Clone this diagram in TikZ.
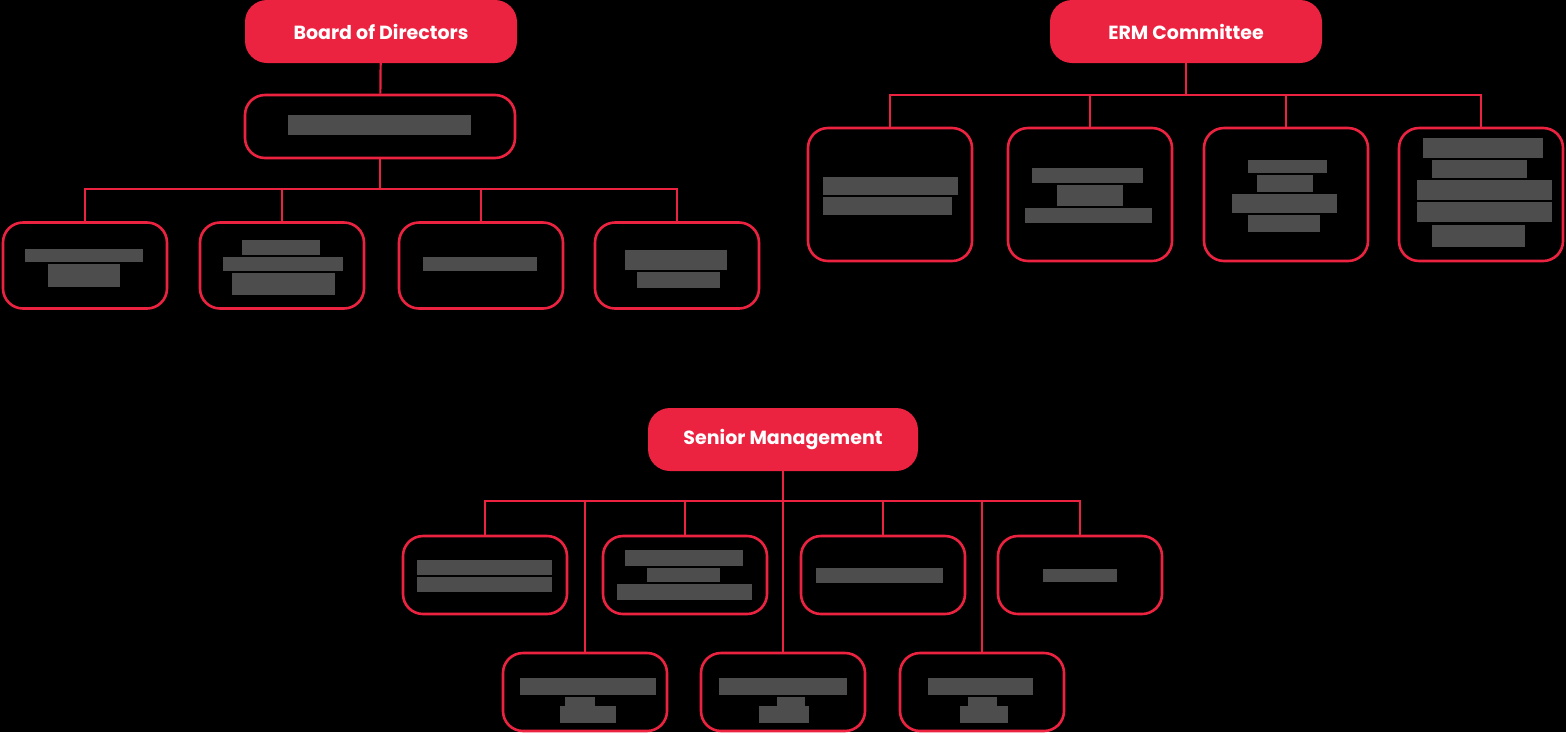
\documentclass[tikz,border=0pt]{standalone}
\usepackage{fontspec}
\setmainfont{Poppins}
\usetikzlibrary{positioning}
\definecolor{ermred}{HTML}{EC2340}
\definecolor{ermgray}{HTML}{4D4D4D}

\begin{document}
\begin{tikzpicture}[x=1pt, y=-1pt,
    head/.style={fill=ermred, rounded corners=22pt, minimum width=272pt, minimum height=63pt, text=white, font=\fontsize{19}{22}\selectfont\bfseries},
    unit/.style={draw=ermred, line width=2.6pt, rounded corners=20pt, minimum width=164pt, minimum height=86pt},
    link/.style={draw=ermred, line width=2.2pt},
    txt/.style={fill=ermgray}]
    \useasboundingbox (0,0) rectangle (1566,732);
    \fill[black] (0,0) rectangle (1566,732);

    % Board side
    \node[head] (bod) at (381,31.5) {Board of Directors};
    \node[unit, minimum width=270pt, minimum height=63pt] (bsub) at (380,126.5) {};
    \node[unit] (b1) at (85,265.5) {};
    \node[unit] (b2) at (282,265.5) {};
    \node[unit] (b3) at (481,265.5) {};
    \node[unit] (b4) at (677,265.5) {};

    % ERM side
    \node[head] (erm) at (1186,31.5) {ERM Committee};
    \node[unit, minimum height=133pt] (e1) at (890,194.5) {};
    \node[unit, minimum height=133pt] (e2) at (1090,194.5) {};
    \node[unit, minimum height=133pt] (e3) at (1286,194.5) {};
    \node[unit, minimum height=133pt] (e4) at (1481,194.5) {};

    % Management side
    \node[head, minimum width=270pt] (sm) at (783,439.5) {Senior Management};
    \node[unit, minimum height=78pt] (s1) at (485,575) {};
    \node[unit, minimum height=78pt] (s2) at (685,575) {};
    \node[unit, minimum height=78pt] (s3) at (883,575) {};
    \node[unit, minimum height=78pt] (s4) at (1080,575) {};
    \node[unit, minimum height=78pt] (t1) at (585,692) {};
    \node[unit, minimum height=78pt] (t2) at (783,692) {};
    \node[unit, minimum height=78pt] (t3) at (982,692) {};

    % Links
    \coordinate (bbus) at (380,189);
    \coordinate (ebus) at (1186,95);
    \coordinate (sbus) at (783,501);
    \draw[link] (bod) -- (bsub);
    \draw[link] (bsub.south) -- (bbus);
    \foreach \n in {b1,b2,b3,b4} \draw[link] (bbus) -| (\n.north);
    \draw[link] (erm.south) -- (ebus);
    \foreach \n in {e1,e2,e3,e4} \draw[link] (ebus) -| (\n.north);
    \draw[link] (sm.south) -- (t2.north);
    \foreach \n in {s1,s2,s3,s4,t1,t3} \draw[link] (sbus) -| (\n.north);

    % Blurred labels
    \fill[txt] (288,115) rectangle (471,135);
    \fill[txt] (25,249) rectangle (143,262);
    \fill[txt] (48,264) rectangle (120,287);
    \fill[txt] (242,240) rectangle (320,255);
    \fill[txt] (223,257) rectangle (343,271);
    \fill[txt] (232,273) rectangle (335,295);
    \fill[txt] (423,257) rectangle (537,271);
    \fill[txt] (625,250) rectangle (727,270);
    \fill[txt] (637,272) rectangle (720,288);

    \fill[txt] (823,177) rectangle (958,195);
    \fill[txt] (823,197) rectangle (952,215);
    \fill[txt] (1032,168) rectangle (1143,183);
    \fill[txt] (1057,185) rectangle (1123,206);
    \fill[txt] (1025,208) rectangle (1152,223);
    \fill[txt] (1248,160) rectangle (1327,173);
    \fill[txt] (1257,175) rectangle (1313,192);
    \fill[txt] (1232,194) rectangle (1337,213);
    \fill[txt] (1248,215) rectangle (1320,232);
    \fill[txt] (1423,138) rectangle (1543,158);
    \fill[txt] (1432,160) rectangle (1527,178);
    \fill[txt] (1417,180) rectangle (1552,200);
    \fill[txt] (1417,202) rectangle (1552,222);
    \fill[txt] (1432,225) rectangle (1525,247);

    \fill[txt] (417,560) rectangle (552,575);
    \fill[txt] (417,577) rectangle (552,592);
    \fill[txt] (625,550) rectangle (743,566);
    \fill[txt] (647,568) rectangle (720,582);
    \fill[txt] (617,584) rectangle (752,600);
    \fill[txt] (816,568) rectangle (943,583);
    \fill[txt] (1043,569) rectangle (1117,582);
    \fill[txt] (520,678) rectangle (656,695);
    \fill[txt] (565,697) rectangle (595,706);
    \fill[txt] (560,706) rectangle (616,723);
    \fill[txt] (719,678) rectangle (847,695);
    \fill[txt] (777,697) rectangle (805,706);
    \fill[txt] (759,706) rectangle (809,723);
    \fill[txt] (928,678) rectangle (1033,695);
    \fill[txt] (968,697) rectangle (997,706);
    \fill[txt] (960,706) rectangle (1008,723);
\end{tikzpicture}
\end{document}
